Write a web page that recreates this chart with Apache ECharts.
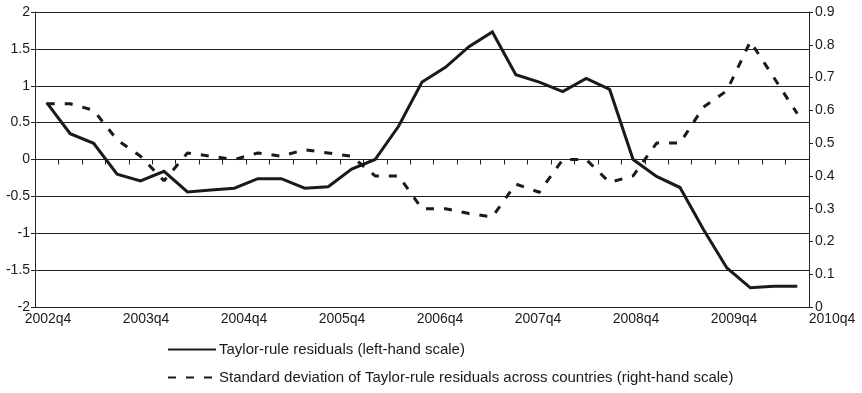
<!DOCTYPE html>
<html>
<head>
<meta charset="utf-8">
<script src="https://cdn.jsdelivr.net/npm/echarts@6/dist/echarts.min.js"></script>
<style>
html,body{margin:0;padding:0;background:#fff;}
#chart{width:862px;height:393px;}
</style>
</head>
<body>
<div id="chart"></div>
<script>
var quarters = ['2002q4',
  '2003q1','2003q2','2003q3','2003q4',
  '2004q1','2004q2','2004q3','2004q4',
  '2005q1','2005q2','2005q3','2005q4',
  '2006q1','2006q2','2006q3','2006q4',
  '2007q1','2007q2','2007q3','2007q4',
  '2008q1','2008q2','2008q3','2008q4',
  '2009q1','2009q2','2009q3','2009q4',
  '2010q1','2010q2','2010q3','2010q4'];
var xTickLabels = ['2002q4','2003q4','2004q4','2005q4','2006q4','2007q4','2008q4','2009q4','2010q4'];
var taylorResiduals = [0.77, 0.35, 0.22, -0.20, -0.29, -0.16, -0.44, -0.415, -0.39, -0.26,
  -0.26, -0.39, -0.37, -0.13, 0.00, 0.45, 1.05, 1.25, 1.53, 1.73,
  1.15, 1.05, 0.92, 1.10, 0.95, 0.00, -0.23, -0.38, -0.95, -1.47,
  -1.74, -1.72, -1.72];
var stdDevResiduals = [0.62, 0.62, 0.60, 0.51, 0.46, 0.385, 0.47, 0.46, 0.45, 0.47,
  0.46, 0.48, 0.47, 0.46, 0.40, 0.40, 0.30, 0.30, 0.285, 0.275,
  0.375, 0.35, 0.45, 0.45, 0.38, 0.40, 0.50, 0.50, 0.61, 0.66,
  0.81, 0.70, 0.59];
var seriesNames = ['Taylor-rule residuals (left-hand scale)',
  'Standard deviation of Taylor-rule residuals across countries (right-hand scale)'];

var textColor = '#1a1a1a';
var font = 'Liberation Sans, Arial, sans-serif';
var chart = echarts.init(document.getElementById('chart'), null, {renderer: 'canvas'});
chart.setOption({
  animation: false,
  backgroundColor: '#fff',
  textStyle: {fontFamily: font, color: textColor},
  grid: [
    {left: 35, right: 53, top: 12, bottom: 86, containLabel: false},
    {left: 48, right: 30, top: 12, bottom: 86, containLabel: false}
  ],
  legend: {
    orient: 'vertical',
    left: 167,
    top: 342,
    height: 60,
    padding: 0,
    itemGap: 13,
    itemWidth: 48,
    itemHeight: 14,
    itemStyle: {opacity: 0},
    textStyle: {fontFamily: font, fontSize: 15, color: textColor, padding: [0, 0, 0, -2]},
    data: [
      {name: seriesNames[0]},
      {name: seriesNames[1]}
    ]
  },
  xAxis: [
    {
      type: 'category', gridIndex: 0, data: quarters, boundaryGap: true,
      axisLine: {show: true, onZero: true, onZeroAxisIndex: 0, lineStyle: {color: '#222', width: 1}},
      axisTick: {show: true, interval: 0, length: 5, lineStyle: {color: '#222'}},
      axisLabel: {show: false},
      splitLine: {show: false}
    },
    {
      type: 'category', gridIndex: 1, data: xTickLabels, boundaryGap: false,
      axisLine: {show: false}, axisTick: {show: false},
      axisLabel: {show: true, interval: 0, margin: 5, fontSize: 14, color: textColor, fontFamily: font},
      splitLine: {show: false}
    }
  ],
  yAxis: [
    {
      type: 'value', gridIndex: 0, min: -2, max: 2, interval: 0.5, position: 'left',
      axisLine: {show: true, lineStyle: {color: '#222', width: 1}},
      axisTick: {show: true, length: 4, lineStyle: {color: '#222'}},
      axisLabel: {fontSize: 14, color: textColor, margin: 5, fontFamily: font},
      splitLine: {show: true, lineStyle: {color: '#222', width: 1}}
    },
    {
      type: 'value', gridIndex: 0, min: 0, max: 0.9, interval: 0.1, position: 'right',
      axisLine: {show: true, lineStyle: {color: '#222', width: 1}},
      axisTick: {show: true, length: 4, lineStyle: {color: '#222'}},
      axisLabel: {fontSize: 14, color: textColor, margin: 6, fontFamily: font,
        formatter: function (v) { return String(Math.round(v * 10) / 10); }},
      splitLine: {show: false}
    },
    {
      type: 'value', gridIndex: 1, show: false, min: 0, max: 1
    }
  ],
  series: [
    {
      name: seriesNames[0], type: 'line', xAxisIndex: 0, yAxisIndex: 0,
      data: taylorResiduals, symbol: 'none', showSymbol: false,
      lineStyle: {color: '#1a1a1a', width: 3, join: 'miter'},
      itemStyle: {color: '#1a1a1a'},
      z: 3
    },
    {
      name: seriesNames[1], type: 'line', xAxisIndex: 0, yAxisIndex: 1,
      data: stdDevResiduals, symbol: 'none', showSymbol: false,
      lineStyle: {color: '#1a1a1a', width: 3, type: [8, 10]},
      itemStyle: {color: '#1a1a1a'},
      z: 2
    }
  ]
});
</script>
</body>
</html>
